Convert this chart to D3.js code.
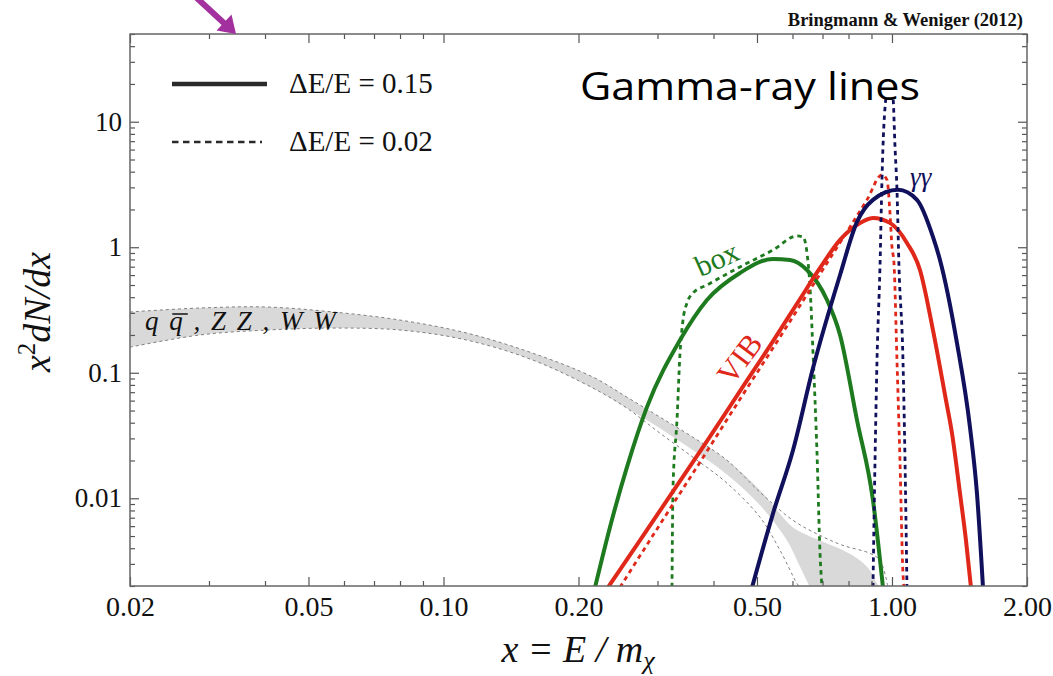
<!DOCTYPE html>
<html><head><meta charset="utf-8">
<script src="https://cdn.jsdelivr.net/npm/d3@7"></script>
<style>body{margin:0;background:#fff} svg{display:block}</style>
</head><body><svg id="c" width="1053" height="676"></svg>
<script>
// ---------------- data ----------------
const xTickValues = [0.02, 0.05, 0.1, 0.2, 0.5, 1, 2];
const xTickLabels = ["0.02", "0.05", "0.10", "0.20", "0.50", "1.00", "2.00"];
const xMinorTicks = [0.03, 0.04, 0.06, 0.07, 0.08, 0.09, 0.3, 0.4, 0.6, 0.7, 0.8, 0.9];
const yTickValues = [0.01, 0.1, 1, 10];
const yTickLabels = ["0.01", "0.1", "1", "10"];
const yMinorTicks = [0.002,0.003,0.004,0.005,0.006,0.007,0.008,0.009,
                     0.02,0.03,0.04,0.05,0.06,0.07,0.08,0.09,
                     0.2,0.3,0.4,0.5,0.6,0.7,0.8,0.9,
                     2,3,4,5,6,7,8,9,20,30,40,50];

// box, dE/E = 0.15 (solid)
const boxWideX = [0.2177, 0.2350, 0.2565, 0.2842, 0.3368, 0.3868, 0.4582, 0.5430, 0.5924, 0.6464, 0.7164, 0.7659, 0.8355, 0.9070, 0.9548];
const boxWideY = [0.00195, 0.00586, 0.0177, 0.0532, 0.182, 0.380, 0.624, 0.807, 0.792, 0.659, 0.380, 0.200, 0.0419, 0.00963, 0.00195];
// box, dE/E = 0.02 (dashed)
const boxNarrowX = [0.3232, 0.3249, 0.3316, 0.3368, 0.3420, 0.3491, 0.3601, 0.3868, 0.4582, 0.5430, 0.6141, 0.6333, 0.6464, 0.6565, 0.6667, 0.6805, 0.6911, 0.6981];
const boxNarrowY = [0.00195, 0.0122, 0.0419, 0.143, 0.263, 0.360, 0.432, 0.500, 0.697, 0.951, 1.23, 1.21, 0.901, 0.482, 0.143, 0.0228, 0.00364, 0.00195];

// VIB, dE/E = 0.15 (solid)
const vibWideX = [0.2327, 0.2742, 0.3249, 0.3868, 0.4582, 0.5430, 0.6236, 0.6911, 0.7659, 0.8355, 0.9070, 0.9897, 1.0799, 1.1545, 1.2342, 1.3194, 1.3608, 1.4178, 1.4622, 1.5000];
const vibWideY = [0.00195, 0.00461, 0.01136, 0.02848, 0.07138, 0.1788, 0.3869, 0.6837, 1.144, 1.506, 1.713, 1.563, 1.082, 0.6592, 0.2188, 0.06047, 0.03299, 0.01095, 0.00461, 0.00195];
// VIB, dE/E = 0.02 (dashed)
const vibNarrowX = [0.2474, 0.3039, 0.3731, 0.4582, 0.5628, 0.6911, 0.8062, 0.8796, 0.9499, 0.9746, 0.9897, 1.0000, 1.0102, 1.0259, 1.0418, 1.0580, 1.0636];
const vibNarrowY = [0.00195, 0.006197, 0.01936, 0.0616, 0.1925, 0.6123, 1.452, 2.385, 3.775, 3.443, 1.878, 1.005, 0.7495, 0.1261, 0.02009, 0.002519, 0.00195];

// gamma gamma, dE/E = 0.15 (solid)
const ggWideX = [0.4875, 0.5430, 0.6016, 0.6667, 0.7659, 0.8355, 0.9070, 1.0313, 1.1369, 1.2342, 1.2794, 1.3961, 1.4925, 1.5469, 1.5955];
const ggWideY = [0.00195, 0.007586, 0.02414, 0.1089, 0.6012, 1.591, 2.385, 2.866, 2.385, 1.208, 0.7918, 0.1723, 0.03683, 0.01095, 0.00195];
// gamma gamma, dE/E = 0.02 (dashed)
const ggNarrowX = [0.9070, 0.9166, 0.9260, 0.9402, 0.9499, 0.9548, 0.9696, 0.9847, 1.0051, 1.0156, 1.0259, 1.0366, 1.0580, 1.0691, 1.0799];
const ggNarrowY = [0.00195, 0.02009, 0.1261, 0.6966, 3.443, 6.31, 15.8, 21.2, 15.8, 6.31, 2.866, 0.697, 0.126, 0.0201, 0.00195];

// q qbar, ZZ, WW band (dE/E = 0.15, filled)
const bandUpperX = [0.02, 0.02865, 0.0404, 0.0567, 0.0800, 0.1128, 0.1584, 0.2155, 0.2565, 0.3039, 0.3601, 0.4286, 0.5080, 0.5542, 0.6016, 0.6911, 0.7778, 0.8487, 0.8933, 0.9260, 0.9402];
const bandUpperY = [0.305, 0.328, 0.334, 0.305, 0.263, 0.207, 0.143, 0.0923, 0.0639, 0.0443, 0.0306, 0.0201, 0.0116, 0.00801, 0.00586, 0.00461, 0.00385, 0.00320, 0.00266, 0.00209, 0.00195];
const bandLowerX = [0.02, 0.02865, 0.0404, 0.0567, 0.0800, 0.1128, 0.1584, 0.2155, 0.2565, 0.3039, 0.3601, 0.4286, 0.5080, 0.5834, 0.6236, 0.6565];
const bandLowerY = [0.160, 0.200, 0.219, 0.227, 0.219, 0.182, 0.126, 0.0754, 0.0522, 0.0362, 0.0241, 0.0155, 0.00879, 0.00461, 0.00285, 0.00195];
// band edges, dE/E = 0.02 (thin dashed)
const bandDashUpperX = [0.02, 0.02865, 0.0404, 0.0567, 0.0800, 0.1128, 0.1584, 0.2155, 0.2565, 0.3039, 0.3601, 0.4286, 0.5080, 0.6016, 0.6911, 0.7778, 0.8933, 0.9402, 0.9797];
const bandDashUpperY = [0.305, 0.328, 0.334, 0.305, 0.263, 0.207, 0.143, 0.0923, 0.0639, 0.0443, 0.0306, 0.0201, 0.01116, 0.00667, 0.00506, 0.00421, 0.00364, 0.00320, 0.00195];
const bandDashLowerX = [0.02, 0.02865, 0.0404, 0.0567, 0.0800, 0.1128, 0.1584, 0.2155, 0.2565, 0.3039, 0.3601, 0.4286, 0.5080, 0.5628, 0.6141, 0.6236];
const bandDashLowerY = [0.160, 0.200, 0.219, 0.227, 0.219, 0.182, 0.126, 0.0754, 0.0522, 0.0330, 0.0212, 0.0132, 0.00705, 0.00385, 0.00209, 0.00195];

const legendLabels = ["\u0394E/E = 0.15", "\u0394E/E = 0.02"];

// ---------------- drawing ----------------
const GREEN = "#1e7a1e", RED = "#e0281a", NAVY = "#10105c";
const svg = d3.select("#c");
const M = {l: 130, r: 1027, t: 34, b: 586};
const x = d3.scaleLog().domain([0.02, 2]).range([M.l, M.r]);
const y = d3.scaleLog().domain([0.002, 50]).range([M.b, M.t]);
const zip = (a, b) => a.map((v, i) => [v, b[i]]);

svg.append("defs").append("clipPath").attr("id", "clip")
  .append("rect").attr("x", M.l).attr("y", M.t).attr("width", M.r - M.l).attr("height", M.b - M.t);

const plot = svg.append("g").attr("clip-path", "url(#clip)");
const smooth = d3.line().x(d => x(d[0])).y(d => y(d[1])).curve(d3.curveMonotoneX);
const cat = d3.line().x(d => x(d[0])).y(d => y(d[1])).curve(d3.curveCatmullRom.alpha(0.5));

// band
const up = zip(bandUpperX, bandUpperY), lo = zip(bandLowerX, bandLowerY).reverse();
const bandPath = cat(up) + "L" + cat(lo).slice(1) + "Z";
plot.append("path").attr("d", bandPath).attr("fill", "#d9d9d9").attr("stroke", "none");
[[bandDashUpperX, bandDashUpperY], [bandDashLowerX, bandDashLowerY]].forEach(([a, b]) => {
  plot.append("path").attr("d", cat(zip(a, b))).attr("fill", "none")
    .attr("stroke", "#808080").attr("stroke-width", 1).attr("stroke-dasharray", "3,3");
});

const series = [
  {X: boxNarrowX, Y: boxNarrowY, c: GREEN, dash: true},
  {X: boxWideX, Y: boxWideY, c: GREEN, dash: false},
  {X: vibNarrowX, Y: vibNarrowY, c: RED, dash: true},
  {X: vibWideX, Y: vibWideY, c: RED, dash: false},
  {X: ggNarrowX, Y: ggNarrowY, c: NAVY, dash: true},
  {X: ggWideX, Y: ggWideY, c: NAVY, dash: false},
];
series.forEach(s => {
  plot.append("path").attr("d", smooth(zip(s.X, s.Y))).attr("fill", "none")
    .attr("stroke", s.c).attr("stroke-width", s.dash ? 2.8 : 4)
    .attr("stroke-dasharray", s.dash ? "4.5,4" : null)
    .attr("stroke-linejoin", "round");
});

// axes (ticks inward on all sides)
const serif = "'Liberation Serif','Times New Roman',serif";
function styleAxis(g, fs) {
  g.select(".domain").remove();
  g.selectAll(".tick line").attr("stroke", "#555").attr("stroke-width", 1.2);
  g.selectAll(".tick text").attr("font-family", serif).attr("font-size", fs || 27).attr("fill", "#111");
}
svg.append("g").attr("transform", `translate(0,${M.b})`)
  .call(d3.axisBottom(x).tickValues(xTickValues).tickFormat((d, i) => xTickLabels[i]).tickSize(-9).tickPadding(10)).call(styleAxis, 28);
svg.append("g").attr("transform", `translate(0,${M.b})`)
  .call(d3.axisBottom(x).tickValues(xMinorTicks).tickFormat("").tickSize(-5)).call(styleAxis);
svg.append("g").attr("transform", `translate(0,${M.t})`)
  .call(d3.axisTop(x).tickValues(xTickValues).tickFormat("").tickSize(-9)).call(styleAxis);
svg.append("g").attr("transform", `translate(0,${M.t})`)
  .call(d3.axisTop(x).tickValues(xMinorTicks).tickFormat("").tickSize(-5)).call(styleAxis);
svg.append("g").attr("transform", `translate(${M.l},0)`)
  .call(d3.axisLeft(y).tickValues(yTickValues).tickFormat((d, i) => yTickLabels[i]).tickSize(-9).tickPadding(8)).call(styleAxis, 27);
svg.append("g").attr("transform", `translate(${M.l},0)`)
  .call(d3.axisLeft(y).tickValues(yMinorTicks).tickFormat("").tickSize(-5)).call(styleAxis);
svg.append("g").attr("transform", `translate(${M.r},0)`)
  .call(d3.axisRight(y).tickValues(yTickValues).tickFormat("").tickSize(-9)).call(styleAxis);
svg.append("g").attr("transform", `translate(${M.r},0)`)
  .call(d3.axisRight(y).tickValues(yMinorTicks).tickFormat("").tickSize(-5)).call(styleAxis);
svg.append("rect").attr("x", M.l).attr("y", M.t).attr("width", M.r - M.l).attr("height", M.b - M.t)
  .attr("fill", "none").attr("stroke", "#666").attr("stroke-width", 1.5);

// axis titles
const xl = svg.append("text").attr("x", 578).attr("y", 662).attr("text-anchor", "middle")
  .attr("font-family", serif).attr("font-style", "italic").attr("font-size", 38).attr("fill", "#111");
xl.append("tspan").text("x = E / m");
xl.append("tspan").attr("dy", 7).attr("font-size", 26).text("\u03c7");

const yl = svg.append("text").attr("transform", "translate(50,312) rotate(-90)").attr("text-anchor", "middle")
  .attr("font-family", serif).attr("font-style", "italic").attr("font-size", 38).attr("fill", "#111");
yl.append("tspan").text("x");
yl.append("tspan").attr("dy", -15).attr("font-size", 25).attr("font-style", "normal").text("2");
yl.append("tspan").attr("dy", 15).text("dN/dx");

// curve labels
svg.append("text").attr("transform", "translate(721,268) rotate(-24)").attr("text-anchor", "middle")
  .attr("font-family", serif).attr("font-size", 30).attr("fill", GREEN).text("box");
svg.append("text").attr("transform", "translate(748,365) rotate(-53)").attr("text-anchor", "middle")
  .attr("font-family", serif).attr("font-size", 31).attr("fill", RED).text("VIB");
svg.append("text").attr("x", 910).attr("y", 186)
  .attr("font-family", serif).attr("font-style", "italic").attr("font-size", 27).attr("fill", NAVY).text("\u03b3\u03b3");
const ql = svg.append("text").attr("x", 145).attr("y", 330)
  .attr("font-family", serif).attr("font-style", "italic").attr("font-size", 27).attr("fill", "#111")
  .attr("letter-spacing", 2).attr("xml:space", "preserve").text("q q , Z Z , W W");
// overline on the second q (antiquark)
const qn = ql.node();
const qs = qn.getStartPositionOfChar(2), qe = qn.getEndPositionOfChar(2);
svg.append("line").attr("x1", qs.x + 3).attr("x2", qe.x + 3).attr("y1", 330 - 16).attr("y2", 330 - 16)
  .attr("stroke", "#111").attr("stroke-width", 1.5);

// legend
const lg = svg.append("g");
[0, 1].forEach(i => {
  const yy = 84 + i * 58;
  lg.append("line").attr("x1", 172).attr("x2", i ? 262 : 267).attr("y1", yy).attr("y2", yy)
    .attr("stroke", "#2a2a2a").attr("stroke-width", i ? 2.6 : 4.5).attr("stroke-dasharray", i ? "6.5,4.5" : null);
  lg.append("text").attr("x", 289).attr("y", yy + 9).attr("font-family", serif).attr("font-size", 29)
    .attr("fill", "#111").text(legendLabels[i]);
});

// credit
svg.append("text").attr("x", 1023).attr("y", 26).attr("text-anchor", "end")
  .attr("font-family", serif).attr("font-weight", "bold").attr("font-size", 18.5).attr("fill", "#111")
  .text("Bringmann & Weniger (2012)");

// title with white box
const tg = svg.append("g");
const tt = tg.append("text").attr("x", 580).attr("y", 100)
  .attr("font-family", "'Open Sans','Liberation Sans',sans-serif").attr("font-size", 38).attr("fill", "#000")
  .attr("textLength", 340).attr("lengthAdjust", "spacingAndGlyphs").text("Gamma-ray lines");
const bb = tt.node().getBBox();
tg.insert("rect", "text").attr("x", bb.x).attr("y", bb.y + 4).attr("width", bb.width).attr("height", 100 - 3 - (bb.y + 4)).attr("fill", "#fff");

// arrow annotation
const ar = svg.append("g").attr("fill", "#a2309e").attr("stroke", "#a2309e");
ar.append("line").attr("x1", 186).attr("y1", -12).attr("x2", 226).attr("y2", 25).attr("stroke-width", 6);
ar.append("path").attr("d", "M236,34 L216.5,30.5 L231.5,14.6 Z").attr("stroke", "none");
</script></body></html>
